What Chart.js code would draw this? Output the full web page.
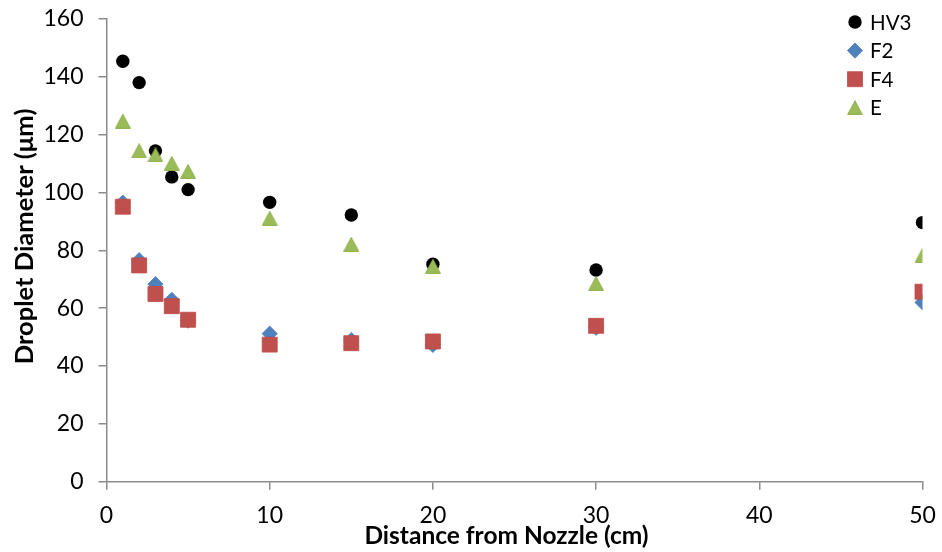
<!DOCTYPE html>
<html>
<head>
<meta charset="utf-8">
<script src="https://cdn.jsdelivr.net/npm/chart.js@4/dist/chart.umd.min.js"></script>
<style>
  html, body { margin: 0; padding: 0; background: #ffffff; }
  #wrap { width: 942px; height: 552px; position: relative; }
</style>
</head>
<body>
<div id="wrap"><canvas id="chart"></canvas></div>
<script>
// Droplet diameter vs. distance from the nozzle, four spray configurations
const distanceCm = [1, 2, 3, 4, 5, 10, 15, 20, 30, 50];
const seriesNames = ['HV3', 'F2', 'F4', 'E'];
const hv3 = [145.4, 138.0, 114.4, 105.4, 101.0, 96.6, 92.2, 75.2, 73.2, 89.6];
const f2  = [96.5, 76.6, 68.3, 62.9, 55.7, 51.2, 49.0, 47.3, 53.2, 62.0];
const f4  = [95.1, 74.8, 64.9, 60.7, 56.0, 47.4, 47.9, 48.5, 53.9, 65.7];
const e   = [124.7, 114.4, 113.0, 110.1, 107.3, 91.1, 82.1, 74.5, 68.5, 78.2];
const xTicks = [0, 10, 20, 30, 40, 50];
const yTicks = [0, 20, 40, 60, 80, 100, 120, 140, 160];

const FONT = 'Lato, "Open Sans", "DejaVu Sans", sans-serif';
const AXIS_GREY = '#8c8c8c';

// Triangle marker centred on its bounding box
function triangleMarker(w, h, fill, stroke) {
  const c = document.createElement('canvas');
  c.width = w; c.height = h;
  const g = c.getContext('2d');
  g.beginPath();
  g.moveTo(w / 2, 0.6);
  g.lineTo(w - 0.6, h - 0.6);
  g.lineTo(0.6, h - 0.6);
  g.closePath();
  g.fillStyle = fill;
  g.fill();
  g.lineWidth = 1;
  g.strokeStyle = stroke;
  g.stroke();
  return c;
}

const pts = (ys) => distanceCm.map((x, i) => ({ x: x, y: ys[i] }));

const datasets = [
  { label: seriesNames[0], data: pts(hv3), pointStyle: 'circle', pointRadius: 6.7,
    backgroundColor: '#000000', borderColor: '#000000', borderWidth: 0, order: 3 },
  { label: seriesNames[1], data: pts(f2), pointStyle: 'rectRot', pointRadius: 7.6,
    backgroundColor: '#4F81BD', borderColor: '#4A7EBB', borderWidth: 0.8, order: 2 },
  { label: seriesNames[2], data: pts(f4), pointStyle: 'rect', pointRadius: 10.6,
    backgroundColor: '#C0504D', borderColor: '#BE4B48', borderWidth: 0.8, order: 1 },
  { label: seriesNames[3], data: pts(e), pointStyle: triangleMarker(16, 15, '#9BBB59', '#8FB04C'),
    pointRadius: 8, backgroundColor: '#9BBB59', borderColor: '#8FB04C', borderWidth: 0, order: 0 }
];

// Legend inside the plot, top-right, one entry per row
const sideLegend = {
  id: 'sideLegend',
  afterDraw(chart) {
    const ctx = chart.ctx;
    const x0 = 855, y0 = 22, rowH = 28.6;
    ctx.save();
    chart.data.datasets.forEach((ds, i) => {
      const y = y0 + i * rowH;
      ctx.fillStyle = ds.backgroundColor;
      ctx.strokeStyle = ds.borderColor;
      ctx.lineWidth = ds.borderWidth;
      Chart.helpers.drawPoint(ctx, {
        pointStyle: ds.pointStyle, radius: ds.pointRadius, rotation: 0, borderWidth: ds.borderWidth
      }, x0, y);
      ctx.fillStyle = '#000000';
      ctx.font = '20.5px ' + FONT;
      ctx.textAlign = 'left';
      ctx.textBaseline = 'middle';
      ctx.fillText(ds.label, 870, y + 1);
    });
    ctx.restore();
  }
};

// Axis titles
const axisTitles = {
  id: 'axisTitles',
  afterDraw(chart) {
    const { ctx, chartArea } = chart;
    ctx.save();
    ctx.fillStyle = '#000000';
    ctx.textAlign = 'center';
    ctx.textBaseline = 'middle';
    ctx.font = 'bold 24.5px ' + FONT;
    ctx.fillText('Distance from Nozzle (cm)', (chartArea.left + chartArea.right) / 2 - 8, chartArea.bottom + 54);
    ctx.font = 'bold 25.5px ' + FONT;
    ctx.translate(25, (chartArea.top + chartArea.bottom) / 2 - 14);
    ctx.rotate(-Math.PI / 2);
    ctx.fillText('Droplet Diameter (\u03bcm)', 0, 0);
    ctx.restore();
  }
};

// Fixed axis box sizes; tick-label overhang is covered by the layout padding
const fixX = (s) => { s.height = 70.3; s.paddingLeft = 0; s.paddingRight = 0; s.paddingTop = 0; s.paddingBottom = 0; };
const fixY = (s) => { s.width = 106.5; s.paddingLeft = 0; s.paddingRight = 0; s.paddingTop = 0; s.paddingBottom = 0; };

new Chart(document.getElementById('chart'), {
  type: 'scatter',
  data: { datasets: datasets },
  options: {
    responsive: true,
    maintainAspectRatio: false,
    animation: false,
    events: [],
    layout: { autoPadding: false, padding: { top: 19, right: 19.5, left: 0, bottom: 0 } },
    plugins: { legend: { display: false }, tooltip: { enabled: false } },
    scales: {
      x: {
        type: 'linear', min: 0, max: 50,
        afterBuildTicks: (s) => { s.ticks = xTicks.map(v => ({ value: v })); },
        afterFit: fixX,
        ticks: { font: { family: FONT, size: 23 }, color: '#000000', padding: 12, maxRotation: 0 },
        grid: { display: true, drawOnChartArea: false, drawTicks: true, tickLength: 8, color: AXIS_GREY, lineWidth: 1.5 },
        border: { display: true, color: AXIS_GREY, width: 1.5 }
      },
      y: {
        type: 'linear', min: 0, max: 160,
        afterBuildTicks: (s) => { s.ticks = yTicks.map(v => ({ value: v })); },
        afterFit: fixY,
        ticks: { font: { family: FONT, size: 23 }, color: '#000000', padding: 15 },
        grid: { display: true, drawOnChartArea: false, drawTicks: true, tickLength: 8, color: AXIS_GREY, lineWidth: 1.5 },
        border: { display: true, color: AXIS_GREY, width: 1.5 }
      }
    }
  },
  plugins: [sideLegend, axisTitles]
});
</script>
</body>
</html>
